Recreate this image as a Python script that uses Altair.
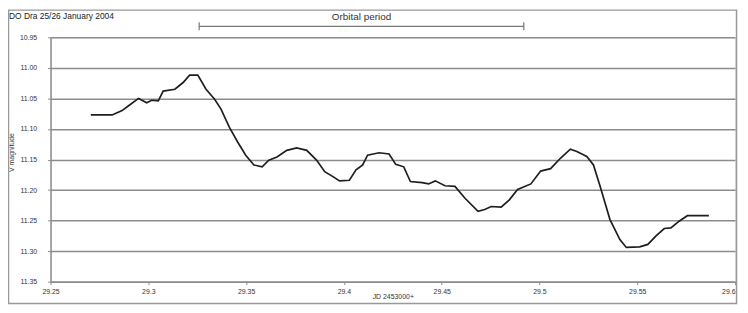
import altair as alt
import pandas as pd

# Light curve of DO Dra, 25/26 January 2004 (JD - 2453000, V magnitude)
jd = [29.2706, 29.2815, 29.2866, 29.2899, 29.2950, 29.2992, 29.3017, 29.3051,
      29.3076, 29.3136, 29.3178, 29.3211, 29.3253, 29.3295, 29.3338, 29.3371,
      29.3414, 29.3456, 29.3498, 29.3540, 29.3582, 29.3616, 29.3658, 29.3708,
      29.3759, 29.3810, 29.3860, 29.3902, 29.3944, 29.3978, 29.4028, 29.4062,
      29.4096, 29.4121, 29.4180, 29.4231, 29.4265, 29.4306, 29.4340, 29.4400,
      29.4433, 29.4467, 29.4517, 29.4568, 29.4618, 29.4686, 29.4720, 29.4753,
      29.4804, 29.4846, 29.4888, 29.4956, 29.5006, 29.5057, 29.5107, 29.5158,
      29.5191, 29.5242, 29.5276, 29.5310, 29.5360, 29.5411, 29.5444, 29.5512,
      29.5554, 29.5596, 29.5638, 29.5672, 29.5714, 29.5756, 29.5866]
vmag = [11.077, 11.077, 11.070, 11.062, 11.050, 11.057, 11.053, 11.054,
        11.038, 11.035, 11.024, 11.012, 11.012, 11.035, 11.051, 11.067,
        11.097, 11.121, 11.143, 11.159, 11.162, 11.151, 11.146, 11.135,
        11.131, 11.135, 11.151, 11.170, 11.178, 11.185, 11.184, 11.167,
        11.159, 11.143, 11.139, 11.141, 11.158, 11.162, 11.186, 11.188,
        11.190, 11.185, 11.193, 11.194, 11.213, 11.235, 11.232, 11.227,
        11.228, 11.216, 11.199, 11.190, 11.169, 11.165, 11.148, 11.133,
        11.137, 11.145, 11.159, 11.194, 11.248, 11.281, 11.294, 11.293,
        11.289, 11.275, 11.263, 11.262, 11.251, 11.242, 11.242]

x_ticks = [29.25, 29.3, 29.35, 29.4, 29.45, 29.5, 29.55, 29.6]
y_ticks = [10.95, 11.0, 11.05, 11.1, 11.15, 11.2, 11.25, 11.3, 11.35]

# Orbital period annotation (JD start / end, drawn above the plot)
orb_start = [29.326]
orb_end = [29.492]
orb_label = ["Orbital period"]

title_text = "DO Dra  25/26 January 2004"

FONT = "Liberation Sans"
GRID = "#8c8c8c"

df = pd.DataFrame({"jd": jd, "v": vmag})

xscale = alt.Scale(domain=[29.25, 29.6], nice=False, zero=False)
yscale = alt.Scale(domain=[10.95, 11.35], reverse=True, nice=False, zero=False)

line = alt.Chart(df).mark_line(color="#1e1e1e", strokeWidth=1.7).encode(
    x=alt.X("jd:Q", scale=xscale,
            axis=alt.Axis(values=x_ticks, tickCount=20, format=".2~f", grid=False,
                          title="JD  2453000+", titleX=346, titleY=15,
                          titleAlign="center", titleBaseline="middle",
                          titleFont=FONT, titleFontSize=7, titleFontWeight="normal",
                          titleColor="#333",
                          labelFont=FONT, labelFontSize=7, labelColor="#333",
                          labelPadding=3, tickSize=3, tickColor=GRID,
                          labelOverlap=False,
                          labelAlign={"expr": "datum.value > 29.59 ? 'right' : 'center'"},
                          domainColor=GRID, domainWidth=1.5, labelFlush=False)),
    y=alt.Y("v:Q", scale=yscale,
            axis=alt.Axis(values=y_ticks, tickCount=20, format=".2f", grid=True,
                          gridColor=GRID, gridWidth=1.5,
                          title="V magnitude", titleX=-39, titleY=116,
                          titleAngle=270, titleAlign="center",
                          titleBaseline="middle",
                          titleFont=FONT, titleFontSize=7, titleFontWeight="normal",
                          titleColor="#333",
                          labelFont=FONT, labelFontSize=7, labelColor="#333",
                          labelPadding=11, tickSize=3, tickColor=GRID,
                          labelOverlap=False, labelFlush=False,
                          domainColor=GRID, domainWidth=1.5)),
)

orb_df = pd.DataFrame({"x1": orb_start, "x2": orb_end, "label": orb_label,
                       "xm": [(a + b) / 2 for a, b in zip(orb_start, orb_end)]})
orb_df["yb"] = 10.932
orb_df["yt"] = 10.916
orb_df["ycap1"] = 10.9255
orb_df["ycap2"] = 10.9385

bar = alt.Chart(orb_df).mark_rule(color="#777", strokeWidth=1.2).encode(
    x=alt.X("x1:Q", scale=xscale), x2="x2:Q",
    y=alt.Y("yb:Q", scale=yscale))
cap1 = alt.Chart(orb_df).mark_rule(color="#777", strokeWidth=1.2).encode(
    x=alt.X("x1:Q", scale=xscale),
    y=alt.Y("ycap1:Q", scale=yscale), y2="ycap2:Q")
cap2 = alt.Chart(orb_df).mark_rule(color="#777", strokeWidth=1.2).encode(
    x=alt.X("x2:Q", scale=xscale),
    y=alt.Y("ycap1:Q", scale=yscale), y2="ycap2:Q")
orb_text = alt.Chart(orb_df).mark_text(font=FONT, fontSize=10, color="#333",
                                       baseline="middle", align="center").encode(
    x=alt.X("xm:Q", scale=xscale),
    y=alt.Y("yt:Q", scale=yscale), text="label:N")

deco = pd.DataFrame({"t": [title_text]})
frame = alt.Chart(deco).mark_rect(fill="transparent", stroke="#999",
                                  strokeWidth=1.5).encode(
    x=alt.value(-42.5), x2=alt.value(693.5),
    y=alt.value(-27.5), y2=alt.value(269))
title = alt.Chart(deco).mark_text(font=FONT, fontSize=8.5, color="#222",
                                  align="left", baseline="middle").encode(
    x=alt.value(-42), y=alt.value(-22), text="t:N")

chart = alt.layer(frame, line, bar, cap1, cap2, orb_text, title).properties(
    width=692, height=247,
    autosize=alt.AutoSizeParams(type="none"),
    padding={"left": 43, "top": 28, "right": 5, "bottom": 26},
).configure_view(stroke=GRID, strokeWidth=1.5).configure(background="white")

chart.save("out.html", embed_options={"renderer": "svg", "actions": False})
